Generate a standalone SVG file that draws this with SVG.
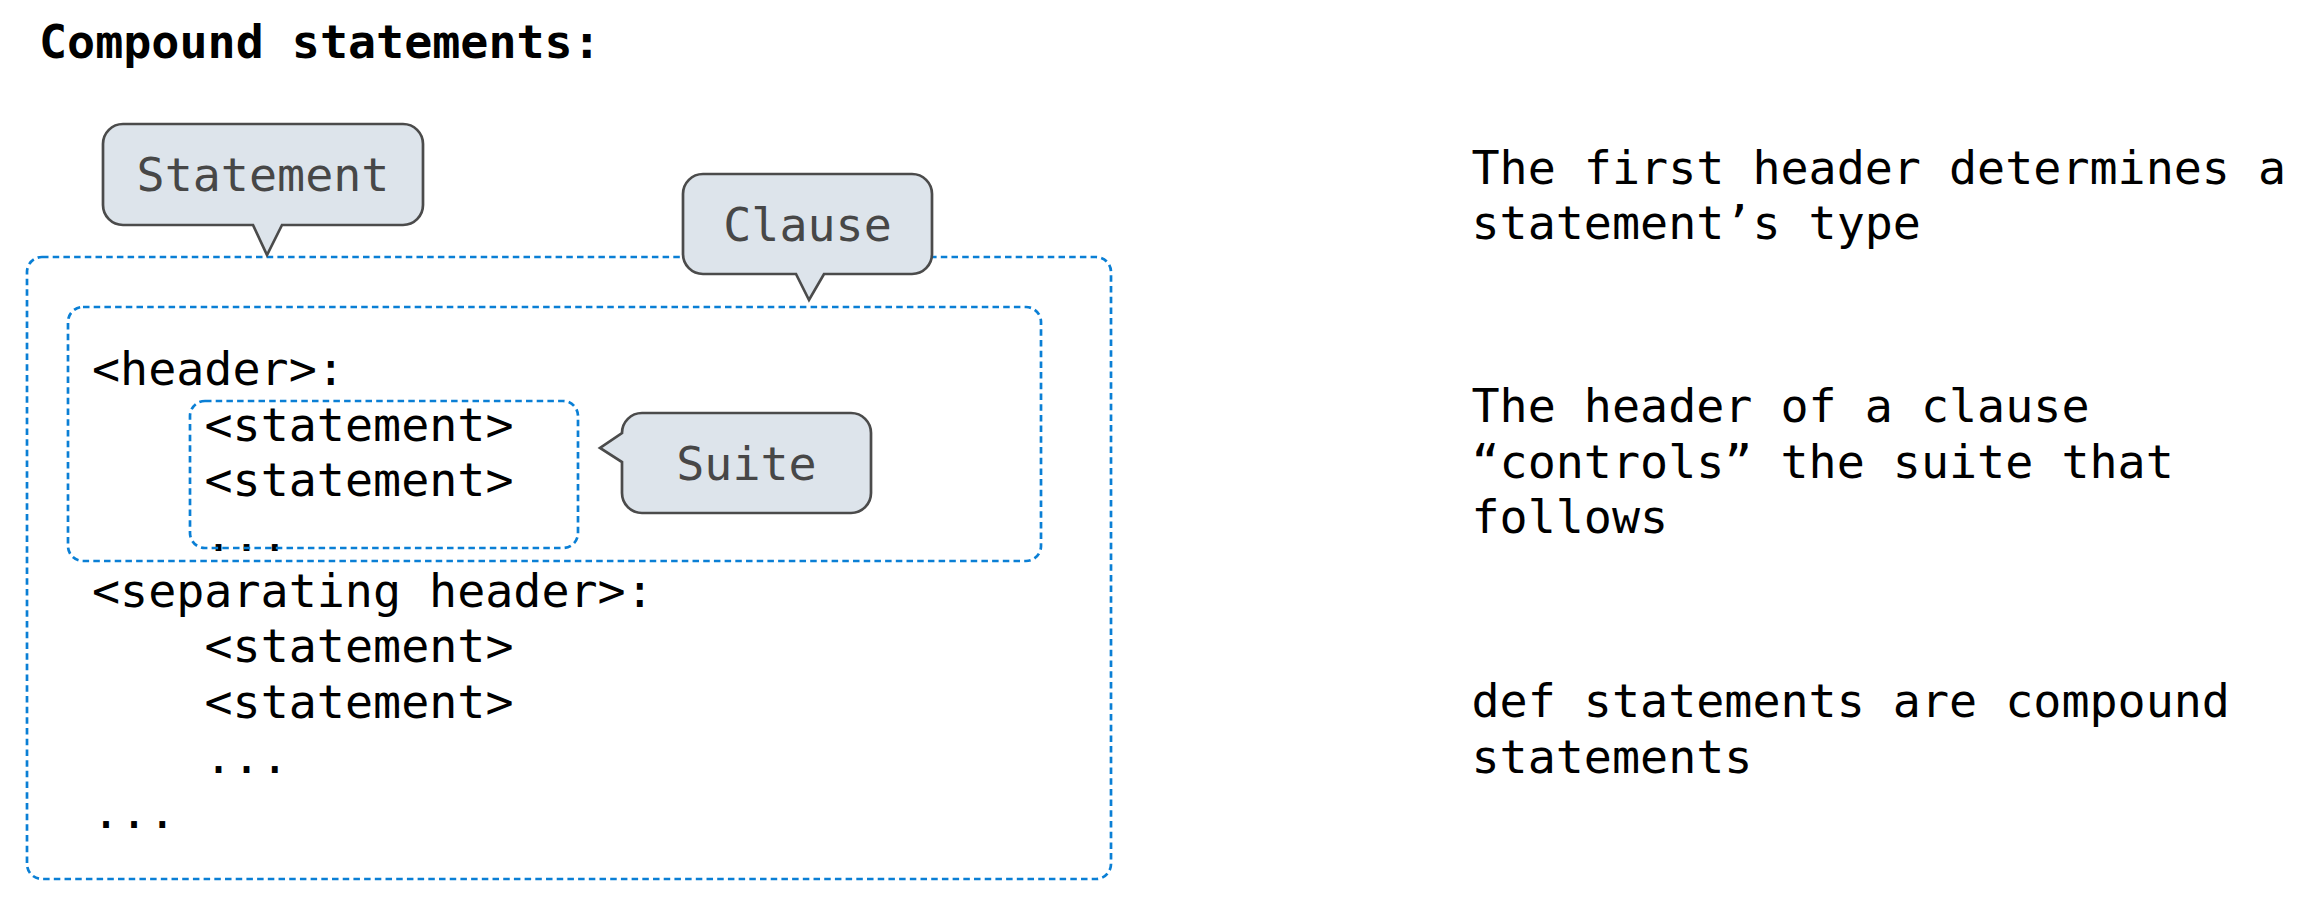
<svg xmlns="http://www.w3.org/2000/svg" width="2308" height="920" viewBox="0 0 2308 920">
<style>
.mono{font-family:"DejaVu Sans Mono","Liberation Mono",monospace;font-size:46.67px;fill:#000}
.title{font-family:"DejaVu Sans Mono","Liberation Mono",monospace;font-size:46.67px;font-weight:bold;fill:#000}
.lbl{font-family:"DejaVu Sans Mono","Liberation Mono",monospace;font-size:46.67px;fill:#474747;text-anchor:middle}
.box{fill:none;stroke:#0a7fd5;stroke-width:2.7;stroke-dasharray:6.5 4.2}
.bubble{fill:#dde4eb;stroke:#4b4b4b;stroke-width:2.7;stroke-linejoin:miter}
</style>
<rect width="2308" height="920" fill="#fff"/>
<text class="title" x="39" y="58">Compound statements:</text>

<g id="code">
<text class="mono" x="92" y="385">&lt;header&gt;:</text>
<text class="mono" x="204.5" y="440.5">&lt;statement&gt;</text>
<text class="mono" x="204.5" y="496">&lt;statement&gt;</text>
<text class="mono" x="204.5" y="551">...</text>
<text class="mono" x="92" y="607">&lt;separating header&gt;:</text>
<text class="mono" x="204.5" y="662">&lt;statement&gt;</text>
<text class="mono" x="204.5" y="717.5">&lt;statement&gt;</text>
<text class="mono" x="204.5" y="773">...</text>
<text class="mono" x="92" y="828">...</text>
</g>

<g id="statement-box"><rect class="box" x="27" y="257" width="1084" height="622" rx="15"/></g>
<g id="clause-box"><rect class="box" x="68" y="307" width="973" height="254" rx="15"/></g>
<g id="suite-box"><rect class="box" x="190" y="401" width="388" height="147" rx="15"/></g>

<g id="statement-bubble">
<path class="bubble" d="M123,124 H403 A20,20 0 0 1 423,144 V205 A20,20 0 0 1 403,225 H282 L267,255 L253,225 H123 A20,20 0 0 1 103,205 V144 A20,20 0 0 1 123,124 Z"/>
<text class="lbl" x="263" y="191">Statement</text>
</g>
<g id="clause-bubble">
<path class="bubble" d="M703,174 H912 A20,20 0 0 1 932,194 V254 A20,20 0 0 1 912,274 H824 L809,300 L796,274 H703 A20,20 0 0 1 683,254 V194 A20,20 0 0 1 703,174 Z"/>
<text class="lbl" x="807.5" y="241">Clause</text>
</g>
<g id="suite-bubble">
<path class="bubble" d="M642,413 H851 A20,20 0 0 1 871,433 V493 A20,20 0 0 1 851,513 H642 A20,20 0 0 1 622,493 V462 L600,448 L622,433 A20,20 0 0 1 642,413 Z"/>
<text class="lbl" x="746.5" y="480">Suite</text>
</g>

<g id="notes">
<text class="mono" x="1471.5" y="183.5">The first header determines a</text>
<text class="mono" x="1471.5" y="239">statement’s type</text>
<text class="mono" x="1471.5" y="422">The header of a clause</text>
<text class="mono" x="1471.5" y="477.5">“controls” the suite that</text>
<text class="mono" x="1471.5" y="533">follows</text>
<text class="mono" x="1471.5" y="717">def statements are compound</text>
<text class="mono" x="1471.5" y="772.5">statements</text>
</g>
</svg>
